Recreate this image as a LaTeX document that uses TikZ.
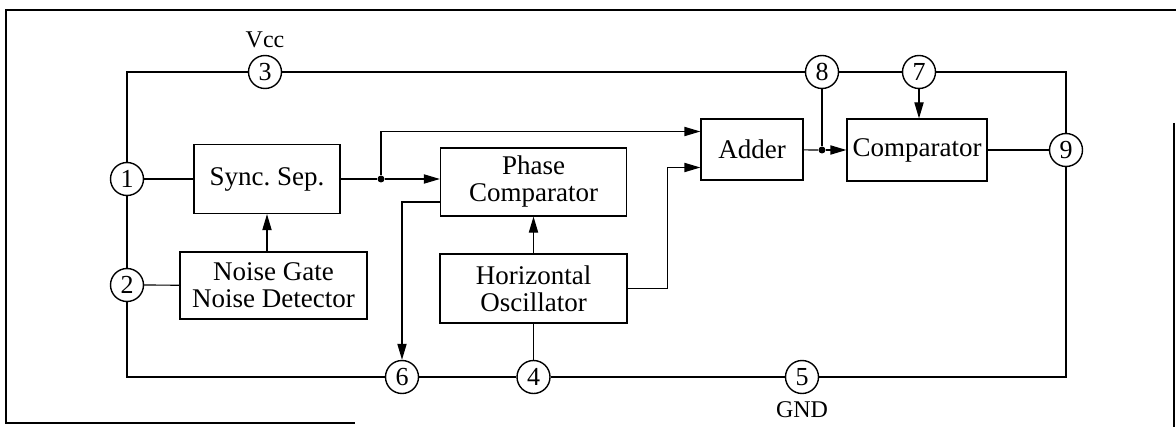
\documentclass[tikz,border=0pt]{standalone}
\usepackage{fontspec}
\setmainfont{Liberation Serif}
\usetikzlibrary{arrows.meta,positioning}

\begin{document}
\begin{tikzpicture}[
  x=0.5pt,y=-0.5pt,
  every node/.style={align=center},
  block/.style={draw,line width=0.6pt,inner sep=0pt,
                font=\fontsize{13.5}{13.5}\selectfont},
  pin/.style={draw,circle,line width=0.7pt,minimum size=16.5pt,inner sep=0pt,
              font=\fontsize{13}{13}\selectfont},
  supply/.style={font=\fontsize{12}{12}\selectfont},
  wire/.style={line width=0.9pt},
  link/.style={line width=0.6pt},
  flow/.style={link,-{Triangle[length=8pt,width=4.6pt]}},
  junction/.style={circle,fill,inner sep=0pt,minimum size=3.5pt}
]
\useasboundingbox (0,0) rectangle (1176,427);
\draw[line width=0.6pt] (1176,10) -- (6,10) -- (6,423) -- (355,423);
\draw[line width=0.6pt] (1174,123) -- (1174,427);

\node[block,minimum width=73pt,minimum height=34.5pt] (syncsep) at (267,179) {Sync.\ Sep.};
\node[block,minimum width=93.5pt,minimum height=33.5pt] (noise) at (273.5,285.5)
  {Noise Gate\\Noise Detector};
\node[block,minimum width=93pt,minimum height=34pt] (phase) at (533.5,182)
  {Phase\\Comparator};
\node[block,minimum width=93.5pt,minimum height=34.5pt] (horiz) at (533.5,288.5)
  {Horizontal\\Oscillator};
\node[block,minimum width=51pt,minimum height=30.5pt] (adder) at (752,149.5) {Adder};
\node[block,minimum width=70pt,minimum height=31pt] (cmp) at (917,150) {Comparator};

\node[pin] (p1) at (127,179) {1};
\node[pin] (p2) at (127,285) {2};
\node[pin] (p3) at (265,72) {3};
\node[pin] (p8) at (822,72) {8};
\node[pin] (p7) at (919,72) {7};
\node[pin] (p9) at (1066,150) {9};
\node[pin] (p6) at (402,377) {6};
\node[pin] (p4) at (533.5,377) {4};
\node[pin] (p5) at (802,377) {5};
\node[supply,above=0pt of p3] (vcc) {Vcc};
\node[supply,below=0pt of p5] (gnd) {GND};

\node[junction] (split) at (381,179) {};
\node[junction] (tap) at (822,150) {};

\draw[wire] (p1) -- (p1 |- p3) -- (p3);
\draw[wire] (p3) -- (p8);
\draw[wire] (p8) -- (p7);
\draw[wire] (p7) -- (p7 -| p9) -- (p9);
\draw[wire] (p1) -- (p2);
\draw[wire] (p2) -- (p2 |- p6) -- (p6);
\draw[wire] (p6) -- (p4);
\draw[wire] (p4) -- (p5);
\draw[wire] (p5) -- (p5 -| p9) -- (p9);

\draw[link] (p1) -- (syncsep);
\draw[link] (p2) -- (noise);
\draw[flow] (noise.north -| syncsep.south) -- (syncsep.south);
\draw[link] (syncsep) -- (split);
\draw[flow] (split) -- (split -| phase.west);
\draw[flow] (split) |- ([yshift=9pt]adder.west);
\draw[flow] ([yshift=-10pt]phase.west) -| (p6);
\draw[flow] (horiz.north) -- (phase.south);
\draw[link] (horiz.south) -- (p4);
\draw[flow] (horiz.east) -- ++(40,0) |- ([yshift=-9pt]adder.west);
\draw[link] (adder) -- (tap);
\draw[flow] (tap) -- (cmp);
\draw[link] (p8) -- (tap);
\draw[flow] (p7) -- (p7 |- cmp.north);
\draw[link] (cmp) -- (p9);
\end{tikzpicture}
\end{document}
